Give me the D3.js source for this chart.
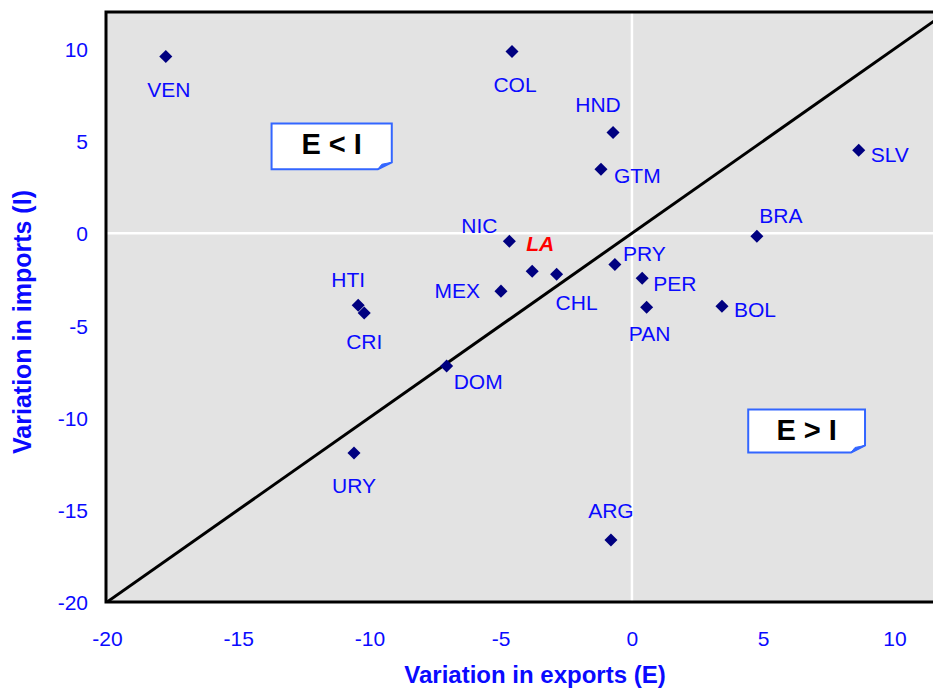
<!DOCTYPE html>
<html>
<head>
<meta charset="utf-8">
<script src="https://cdn.jsdelivr.net/npm/d3@7"></script>
<style>
  html, body { margin: 0; padding: 0; background: #ffffff; }
  svg { display: block; }
  text { font-family: "Liberation Sans", Arial, Helvetica, sans-serif; }
</style>
</head>
<body>
<svg id="chart" width="933" height="689"></svg>
<script>
// ---- Data ----
const countries = ["VEN","COL","HND","GTM","SLV","BRA","NIC","LA","CHL","PRY","PER","PAN","MEX","BOL","HTI","CRI","DOM","URY","ARG"];
const exportsVar = [-17.76,-4.57,-0.72,-1.18,8.64,4.76,-4.67,-3.80,-2.87,-0.65,0.39,0.56,-4.99,3.43,-10.43,-10.20,-7.06,-10.59,-0.80];
const importsVar = [9.59,9.86,5.47,3.47,4.50,-0.16,-0.43,-2.06,-2.22,-1.70,-2.44,-4.01,-3.14,-3.96,-3.90,-4.32,-7.20,-11.92,-16.64];
const xTicks = [-20,-15,-10,-5,0,5,10];
const yTicks = [-20,-15,-10,-5,0,5,10];
const xTitle = "Variation in exports (E)";
const yTitle = "Variation in imports (I)";
const boxTexts = ["E < I", "E > I"];

// ---- Layout (label placement, annotation placement) ----
const labelOffset = {
  VEN:[3,41,"middle"], COL:[3,41,"middle"], HND:[-15,-20,"middle"], GTM:[13,14,"start"],
  SLV:[12,12,"start"], BRA:[24,-13,"middle"], NIC:[-30,-8,"middle"], LA:[8,-20,"middle"],
  CHL:[20,36,"middle"], PRY:[8,-4,"start"], MEX:[-21,7,"end"], PER:[11,13,"start"],
  PAN:[3,34,"middle"], BOL:[12,11,"start"], HTI:[-10,-18,"middle"], CRI:[0,36,"middle"],
  DOM:[7,23,"start"], URY:[0,40,"middle"], ARG:[0,-22,"middle"]
};
const boxPlace = [
  {x0:-13.73, x1:-9.15, y0:5.95, y1:3.47},
  {x0:4.43, x1:8.88, y0:-9.56, y1:-11.89}
];

const W = 933, H = 689;
const pLeft = 107, pRight = 933, pTop = 12, pBottom = 602;

const x = d3.scaleLinear().domain([-20, 11.47]).range([pLeft, pRight]);
const y = d3.scaleLinear().domain([-20, 12]).range([pBottom, pTop]);

const svg = d3.select("#chart");
const blue = "#0a0aff";

svg.append("defs").append("clipPath").attr("id","plotclip")
  .append("rect").attr("x", pLeft).attr("y", pTop).attr("width", pRight-pLeft).attr("height", pBottom-pTop);

// plot background
svg.append("rect").attr("x", pLeft).attr("y", pTop).attr("width", pRight-pLeft).attr("height", pBottom-pTop)
  .attr("fill", "#e3e3e3");

// white zero lines
svg.append("line").attr("x1", x(0)).attr("x2", x(0)).attr("y1", pTop).attr("y2", pBottom)
  .attr("stroke", "#ffffff").attr("stroke-width", 2.5);
svg.append("line").attr("x1", pLeft).attr("x2", pRight).attr("y1", y(0)).attr("y2", y(0))
  .attr("stroke", "#ffffff").attr("stroke-width", 2.5);

// diagonal E = I
svg.append("line").attr("clip-path","url(#plotclip)")
  .attr("x1", x(-20)).attr("y1", y(-20)).attr("x2", x(12)).attr("y2", y(12))
  .attr("stroke", "#000").attr("stroke-width", 3);

// frame: left, top, bottom
svg.append("path")
  .attr("d", `M${pRight},${pTop} H${pLeft-1} V${pBottom} H${pRight}`)
  .attr("fill","none").attr("stroke","#000").attr("stroke-width", 3);

// axes (labels only)
const fmt = d => String(d);
const xAxis = d3.axisBottom(x).tickValues(xTicks).tickSize(0).tickPadding(0).tickFormat(fmt);
const gx = svg.append("g").attr("transform", `translate(0,${pBottom})`).call(xAxis);
gx.select(".domain").remove();
gx.selectAll("text").attr("fill", blue).attr("font-size", 21).attr("dy", null).attr("y", 44)
  .attr("font-family", "'Liberation Sans', Arial, sans-serif");

const yAxis = d3.axisLeft(y).tickValues(yTicks).tickSize(0).tickPadding(0).tickFormat(fmt);
const gy = svg.append("g").attr("transform", `translate(88,0)`).call(yAxis);
gy.select(".domain").remove();
gy.selectAll("text").attr("fill", blue).attr("font-size", 21).attr("x", 0).attr("dy", "0.36em")
  .attr("font-family", "'Liberation Sans', Arial, sans-serif");

// axis titles
svg.append("text").attr("x", 535).attr("y", 683).attr("text-anchor","middle")
  .attr("font-size", 24).attr("font-weight","bold").attr("fill", blue).text(xTitle);
svg.append("text").attr("transform", "translate(31,322) rotate(-90)").attr("text-anchor","middle")
  .attr("font-size", 25).attr("font-weight","bold").attr("fill", blue).text(yTitle);

// annotation boxes
const boxBlue = "#3366ff";
boxPlace.forEach((b, i) => {
  const bx0 = x(b.x0), bx1 = x(b.x1), by0 = y(b.y0), by1 = y(b.y1);
  const g = svg.append("g");
  g.append("path")
    .attr("d", `M${bx0},${by0} H${bx1} V${by1-7} L${bx1-14},${by1} H${bx0} Z`)
    .attr("fill","#ffffff").attr("stroke", boxBlue).attr("stroke-width", 2);
  g.append("path")
    .attr("d", `M${bx1-14},${by1} L${bx1-10},${by1-5} L${bx1},${by1-7} Z`)
    .attr("fill", boxBlue).attr("stroke", boxBlue).attr("stroke-width", 1);
  g.append("text").attr("x", (bx0+bx1)/2).attr("y", by0 + 30).attr("text-anchor","middle")
    .attr("font-size", 29).attr("font-weight","bold").attr("fill","#000").text(boxTexts[i]);
});

// points
const pts = countries.map((c, i) => ({c, e: exportsVar[i], m: importsVar[i]}));
const diamond = d3.symbol().type(d3.symbolSquare).size(85);
svg.append("g").selectAll("path").data(pts).join("path")
  .attr("d", diamond)
  .attr("transform", d => `translate(${x(d.e)},${y(d.m)}) rotate(45)`)
  .attr("fill", "#000080");

// labels
svg.append("g").selectAll("text").data(pts).join("text")
  .attr("x", d => x(d.e) + labelOffset[d.c][0])
  .attr("y", d => y(d.m) + labelOffset[d.c][1])
  .attr("text-anchor", d => labelOffset[d.c][2])
  .attr("font-size", 21)
  .attr("fill", d => d.c === "LA" ? "#ff0000" : blue)
  .attr("font-weight", d => d.c === "LA" ? "bold" : "normal")
  .attr("font-style", d => d.c === "LA" ? "italic" : "normal")
  .text(d => d.c);
</script>
</body>
</html>
